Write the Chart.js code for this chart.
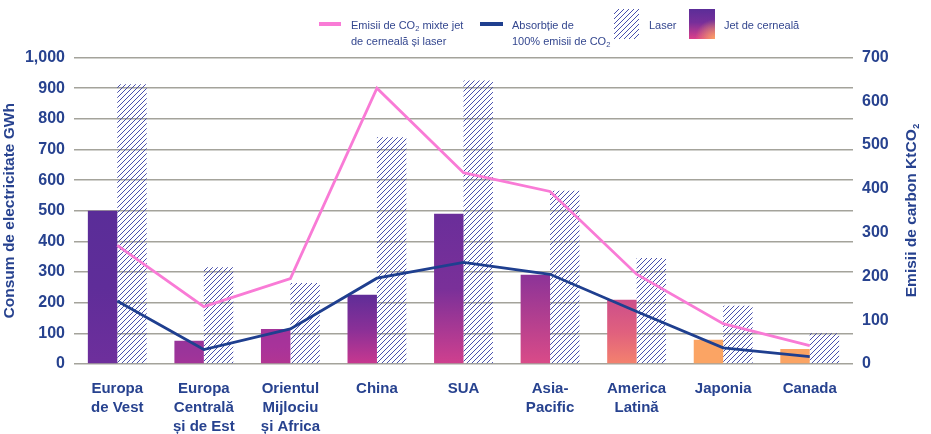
<!DOCTYPE html>
<html>
<head>
<meta charset="utf-8">
<script src="https://cdn.jsdelivr.net/npm/chart.js@4"></script>
<style>
  html, body { margin: 0; padding: 0; background: #fff; }
  .wrap { position: relative; width: 931px; height: 434px; }
  #chart { position: absolute; left: 0; top: 0; }
  .lg { position: absolute; font-family: "Liberation Sans", Arial, sans-serif; font-size: 11px; line-height: 16px; color: #34478f; white-space: nowrap; }
  .lg sub { font-size: 7.5px; line-height: 0; vertical-align: -2px; }
  .sw { position: absolute; }
</style>
</head>
<body>
<div class="wrap">
  <canvas id="chart" width="931" height="434"></canvas>
  <div class="sw" style="left:319px;top:22px;width:22px;height:3.5px;background:#f97bd6"></div>
  <div class="lg" style="left:351px;top:17px">Emisii de CO<sub>2</sub> mixte jet<br>de cerneală și laser</div>
  <div class="sw" style="left:480px;top:22px;width:23px;height:3.5px;background:#1f3f8f"></div>
  <div class="lg" style="left:512px;top:17px">Absorbție de<br>100% emisii de CO<sub>2</sub></div>
  <canvas class="sw" id="hatchSwatch" width="25" height="30" style="left:614px;top:9px"></canvas>
  <div class="lg" style="left:649px;top:17px">Laser</div>
  <div class="sw" style="left:689px;top:9px;width:26px;height:30px;background:radial-gradient(circle at 100% 100%, #fca464 0%, rgba(252,164,100,0) 50%), linear-gradient(180deg, #5b2d98 0%, #772f9a 45%, #dc3f8a 100%)"></div>
  <div class="lg" style="left:724px;top:17px">Jet de cerneală</div>
</div>
<script>
const labels = [
	['Europa', 'de Vest'],
	['Europa', 'Centrală', 'și de Est'],
	['Orientul', 'Mijlociu', 'și Africa'],
	'China',
	'SUA',
	['Asia-', 'Pacific'],
	['America', 'Latină'],
	'Japonia',
	'Canada'
];

// GWh (left axis)
const jetValues = [500, 76, 114, 226, 490, 291, 210, 79, 49];
const laserValues = [913, 316, 264, 740, 925, 565, 346, 190, 100];

// KtCO2 (right axis)
const mixedCO2 = [271, 131, 195, 630, 437, 394, 205, 92, 42];
const absorbCO2 = [144, 33, 80, 196, 232, 205, 120, 37, 17];

const leftTicks = { min: 0, max: 1000, step: 100 };
const rightTicks = { min: 0, max: 700, step: 100 };

// bar gradient colours, top -> bottom
const jetTop = ['#5a2d98', '#97349a', '#a2339a', '#5f2d98', '#6a2e9a', '#8c3398', '#cd4f8a', '#fba464', '#fba464'];
const jetMid = ['#5f2d99', '#9b349a', '#a8339a', '#8a3097', '#7a3099', '#b33f8f', '#e0607e', '#fba464', '#fba464'];
const jetBottom = ['#6e2f9c', '#a33498', '#b23592', '#c8388f', '#d0408e', '#da4b88', '#f4826e', '#fba464', '#fba464'];

const textBlue = '#27428f';
const font = '"Liberation Sans", Arial, sans-serif';

function makeHatch(target) {
	const c = document.createElement('canvas');
	c.width = 5;
	c.height = 5;
	const g = c.getContext('2d');
	g.strokeStyle = '#343ca3';
	g.lineWidth = 0.9;
	g.beginPath();
	g.moveTo(0, 5); g.lineTo(5, 0);
	g.moveTo(-1, 1); g.lineTo(1, -1);
	g.moveTo(4, 6); g.lineTo(6, 4);
	g.stroke();
	return target.createPattern(c, 'repeat');
}

// legend swatch
const sw = document.getElementById('hatchSwatch').getContext('2d');
sw.fillStyle = makeHatch(sw);
sw.fillRect(0, 0, 25, 30);

const canvas = document.getElementById('chart');
const hatch = makeHatch(canvas.getContext('2d'));

function jetFill(ctx) {
	const i = ctx.dataIndex;
	const chart = ctx.chart;
	if (i === undefined || !chart.chartArea) return jetTop[0];
	const y = chart.scales.y;
	const top = y.getPixelForValue(jetValues[i]);
	const bottom = y.getPixelForValue(0);
	const g = chart.ctx.createLinearGradient(0, top, 0, bottom);
	g.addColorStop(0, jetTop[i]);
	g.addColorStop(0.5, jetMid[i]);
	g.addColorStop(1, jetBottom[i]);
	return g;
}

// right axis title reads bottom-to-top with a subscript 2
const rightTitle = {
	id: 'rightTitle',
	afterDraw(chart) {
		const { ctx, chartArea } = chart;
		const cy = (chartArea.top + chartArea.bottom) / 2;
		const main = 'Emisii de carbon KtCO';
		ctx.save();
		ctx.translate(chart.scales.y1.right - 19, cy);
		ctx.rotate(-Math.PI / 2);
		ctx.fillStyle = textBlue;
		ctx.textBaseline = 'middle';
		ctx.font = 'bold 15.5px ' + font;
		const w1 = ctx.measureText(main).width;
		ctx.font = 'bold 9px ' + font;
		const w2 = ctx.measureText('2').width;
		const x0 = -(w1 + w2) / 2;
		ctx.font = 'bold 15.5px ' + font;
		ctx.fillText(main, x0, 0);
		ctx.font = 'bold 9px ' + font;
		ctx.fillText('2', x0 + w1 + 0.5, 5);
		ctx.restore();
	}
};

const config = {
	data: {
		labels: labels,
		datasets: [
			{
				type: 'line',
				label: 'Emisii de CO₂ mixte jet de cerneală și laser',
				data: mixedCO2,
				yAxisID: 'y1',
				borderColor: '#f97bd6',
				borderWidth: 2.8,
				pointRadius: 0,
				tension: 0,
				order: 0
			},
			{
				type: 'line',
				label: 'Absorbție de 100% emisii de CO₂',
				data: absorbCO2,
				yAxisID: 'y1',
				borderColor: '#1f3f8f',
				borderWidth: 2.8,
				pointRadius: 0,
				tension: 0,
				order: 0
			},
			{
				type: 'bar',
				label: 'Jet de cerneală',
				data: jetValues,
				yAxisID: 'y',
				backgroundColor: jetFill,
				borderWidth: 0,
				categoryPercentage: 0.68,
				barPercentage: 1,
				order: 1
			},
			{
				type: 'bar',
				label: 'Laser',
				data: laserValues,
				yAxisID: 'y',
				backgroundColor: hatch,
				borderWidth: 0,
				categoryPercentage: 0.68,
				barPercentage: 1,
				order: 1
			}
		]
	},
	options: {
		responsive: false,
		animation: false,
		layout: {
			padding: { top: 57.5, left: 0, right: 0, bottom: 0 }
		},
		plugins: {
			legend: { display: false },
			tooltip: { enabled: false }
		},
		scales: {
			x: {
				grid: { display: false },
				border: { display: false },
				ticks: {
					color: textBlue,
					padding: 7,
					maxRotation: 0,
					autoSkip: false,
					font: { family: font, size: 15, weight: 'bold', lineHeight: 1.27 }
				},
				afterFit(scale) { scale.height = 70; }
			},
			y: {
				position: 'left',
				min: leftTicks.min,
				max: leftTicks.max,
				grid: { color: '#a4a39b', lineWidth: 1.5, drawTicks: false },
				border: { display: false },
				ticks: {
					stepSize: leftTicks.step,
					color: textBlue,
					padding: 9,
					font: { family: font, size: 16, weight: 'bold' },
					callback: v => v.toLocaleString('en-US')
				},
				title: {
					display: true,
					text: 'Consum de electricitate GWh',
					color: textBlue,
					padding: 0,
					font: { family: font, size: 15.5, weight: 'bold' }
				},
				afterFit(scale) { scale.width = 74; }
			},
			y1: {
				position: 'right',
				min: rightTicks.min,
				max: rightTicks.max,
				grid: { display: false, drawTicks: false },
				border: { display: false },
				ticks: {
					stepSize: rightTicks.step,
					color: textBlue,
					padding: 9,
					font: { family: font, size: 16, weight: 'bold' }
				},
				afterFit(scale) { scale.width = 78; }
			}
		}
	},
	plugins: [rightTitle]
};

const chart = new Chart(canvas, config);
</script>
</body>
</html>
